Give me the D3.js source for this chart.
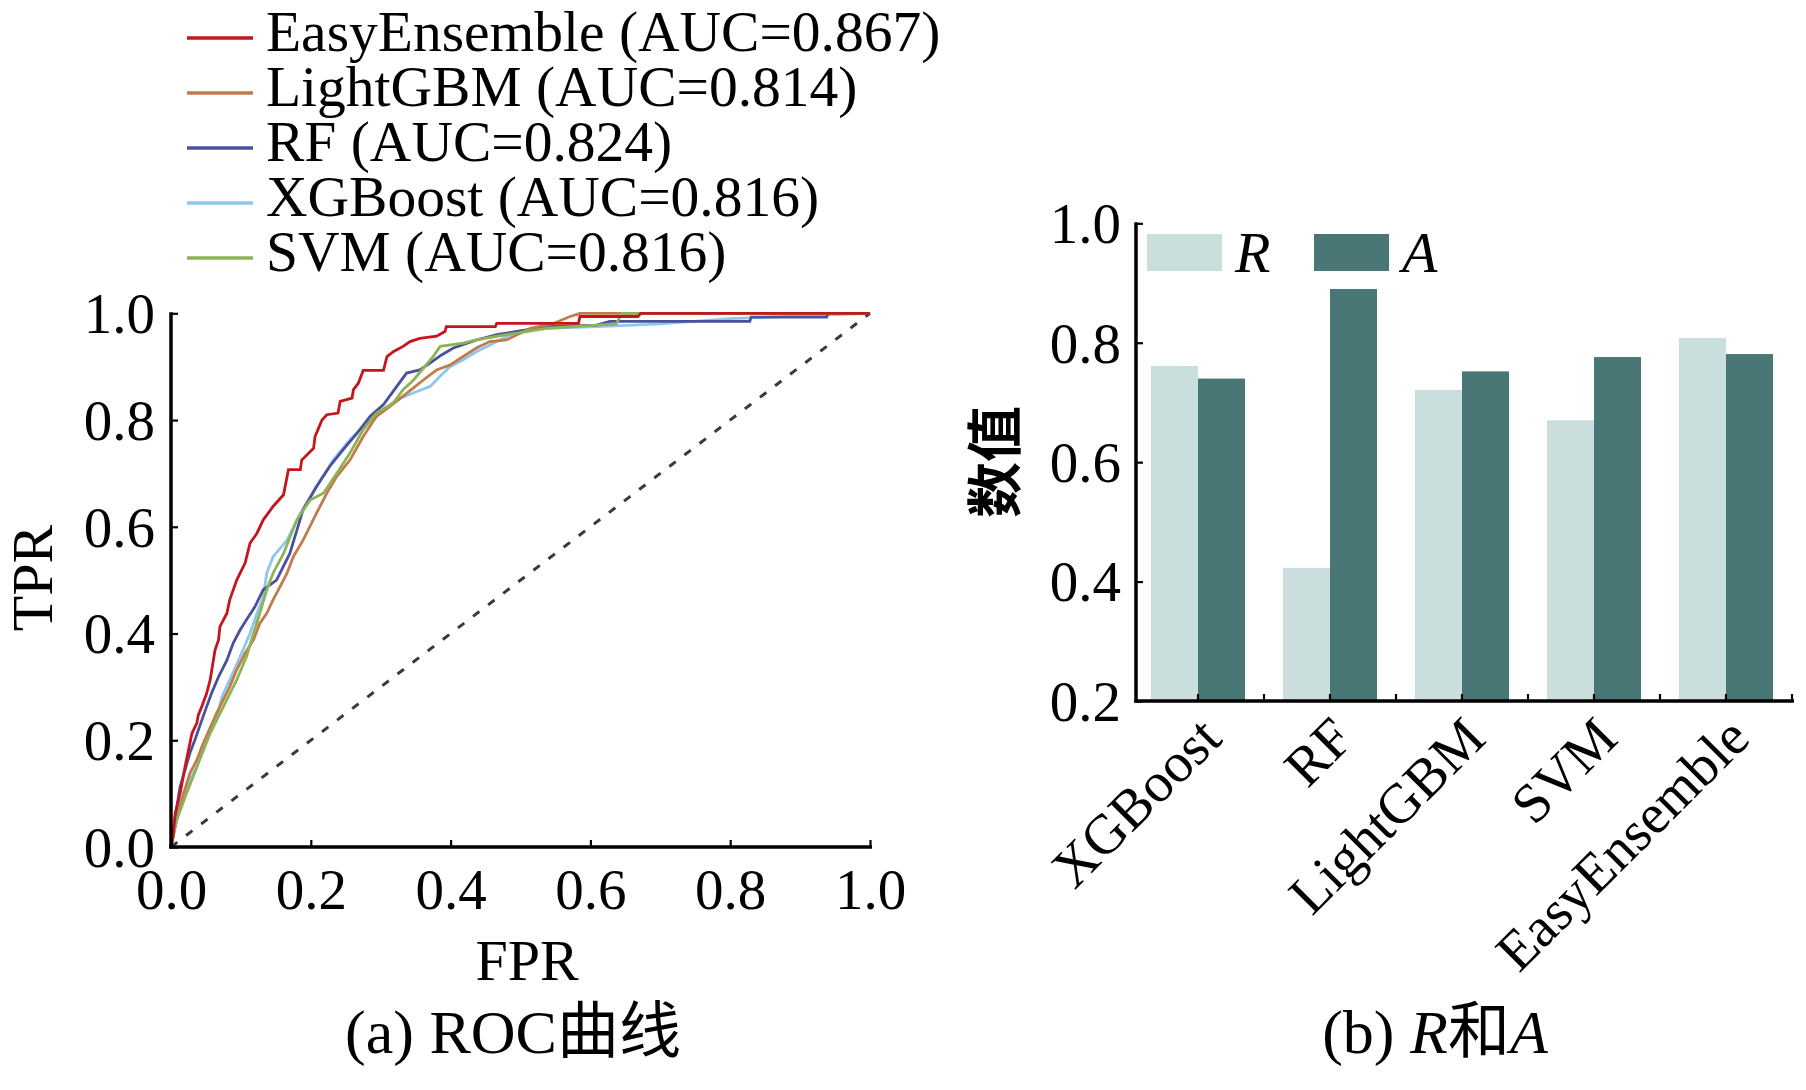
<!DOCTYPE html>
<html>
<head>
<meta charset="utf-8">
<script src="https://cdn.jsdelivr.net/npm/d3@7/dist/d3.min.js"></script>
<style>
  html, body { margin: 0; padding: 0; background: #fff; }
  svg { display: block; }
  text { font-family: "Liberation Serif", "Noto Sans CJK SC", serif; fill: #000; }
</style>
</head>
<body>
<svg id="chart" width="1806" height="1090"></svg>
<script>
// ---------------- DATA ----------------
const rocModels = ["EasyEnsemble", "LightGBM", "RF", "XGBoost", "SVM"];
const rocAUC = ["0.867", "0.814", "0.824", "0.816", "0.816"];
const rocColors = ["#c4161c", "#c27b4b", "#4a509e", "#8ec6ee", "#8cb356"];
const rocTicks = [0, 0.2, 0.4, 0.6, 0.8, 1.0];

const rocEasyEnsemble = [[0,0],[0.003,0.02],[0.006,0.063],[0.013,0.10],[0.02,0.15],[0.026,0.188],[0.03,0.213],[0.037,0.232],[0.039,0.247],[0.044,0.263],[0.051,0.288],[0.056,0.313],[0.058,0.329],[0.063,0.369],[0.068,0.388],[0.07,0.413],[0.08,0.438],[0.084,0.463],[0.094,0.50],[0.106,0.532],[0.113,0.569],[0.123,0.588],[0.132,0.613],[0.146,0.638],[0.161,0.66],[0.168,0.707],[0.185,0.707],[0.187,0.725],[0.204,0.747],[0.206,0.769],[0.216,0.80],[0.223,0.81],[0.239,0.813],[0.242,0.835],[0.259,0.841],[0.261,0.857],[0.268,0.869],[0.275,0.893],[0.304,0.893],[0.309,0.919],[0.318,0.928],[0.332,0.938],[0.342,0.947],[0.356,0.953],[0.38,0.957],[0.392,0.966],[0.394,0.975],[0.464,0.975],[0.466,0.981],[0.583,0.981],[0.585,0.994],[0.668,0.994],[0.672,1.0],[1,1]];
const rocLightGBM = [[0,0],[0.008,0.05],[0.018,0.10],[0.027,0.138],[0.037,0.163],[0.046,0.194],[0.065,0.25],[0.084,0.30],[0.094,0.332],[0.106,0.363],[0.118,0.388],[0.127,0.419],[0.137,0.438],[0.146,0.463],[0.156,0.488],[0.166,0.513],[0.175,0.544],[0.189,0.575],[0.208,0.625],[0.223,0.663],[0.237,0.694],[0.256,0.725],[0.275,0.769],[0.294,0.807],[0.313,0.825],[0.337,0.85],[0.361,0.875],[0.38,0.894],[0.399,0.903],[0.418,0.919],[0.437,0.935],[0.456,0.947],[0.48,0.95],[0.514,0.972],[0.547,0.981],[0.571,0.994],[0.585,1.0],[1,1]];
const rocRF = [[0,0],[0.006,0.057],[0.013,0.113],[0.02,0.144],[0.027,0.176],[0.034,0.20],[0.041,0.226],[0.051,0.263],[0.058,0.288],[0.068,0.319],[0.08,0.35],[0.089,0.382],[0.099,0.407],[0.108,0.426],[0.12,0.45],[0.132,0.482],[0.151,0.50],[0.17,0.55],[0.189,0.632],[0.208,0.675],[0.227,0.713],[0.246,0.744],[0.266,0.775],[0.285,0.807],[0.304,0.829],[0.323,0.863],[0.337,0.888],[0.356,0.894],[0.371,0.907],[0.387,0.922],[0.404,0.935],[0.437,0.95],[0.466,0.96],[0.495,0.966],[0.537,0.975],[0.609,0.978],[0.628,0.985],[0.828,0.985],[0.83,0.993],[0.938,0.993],[0.94,1.0],[1,1]];
const rocXGBoost = [[0,0],[0.008,0.063],[0.022,0.113],[0.037,0.15],[0.051,0.207],[0.065,0.238],[0.073,0.282],[0.084,0.313],[0.099,0.357],[0.113,0.40],[0.123,0.438],[0.132,0.469],[0.137,0.513],[0.146,0.544],[0.166,0.575],[0.185,0.625],[0.208,0.675],[0.232,0.725],[0.256,0.763],[0.275,0.788],[0.304,0.819],[0.323,0.838],[0.351,0.853],[0.371,0.863],[0.385,0.882],[0.399,0.90],[0.418,0.913],[0.437,0.928],[0.466,0.947],[0.495,0.966],[0.537,0.972],[0.61,0.975],[0.70,0.98],[0.80,0.99],[0.90,0.995],[1,1]];
const rocSVM = [[0,0],[0.008,0.05],[0.022,0.10],[0.037,0.15],[0.056,0.213],[0.075,0.263],[0.094,0.313],[0.108,0.357],[0.118,0.40],[0.127,0.438],[0.137,0.482],[0.146,0.513],[0.161,0.55],[0.18,0.613],[0.199,0.65],[0.218,0.663],[0.237,0.70],[0.256,0.738],[0.275,0.782],[0.294,0.813],[0.318,0.832],[0.332,0.857],[0.347,0.875],[0.361,0.897],[0.375,0.919],[0.385,0.938],[0.418,0.944],[0.437,0.95],[0.466,0.957],[0.495,0.963],[0.537,0.972],[0.609,0.978],[0.637,0.98],[0.645,1.0],[1,1]];
const rocDiagonal = [[0,0],[1,1]];

const barCategories = ["XGBoost", "RF", "LightGBM", "SVM", "EasyEnsemble"];
const barSeries = ["R", "A"];
const barR = [0.761, 0.423, 0.721, 0.670, 0.808];
const barA = [0.740, 0.890, 0.752, 0.776, 0.781];
const barColors = ["#c9dedd", "#487776"];
const barTicks = [0.2, 0.4, 0.6, 0.8, 1.0];

// ---------------- DRAW ----------------
const svg = d3.select("#chart");
const FS = 57;

// ===== Panel (a): ROC =====
const xR = d3.scaleLinear().domain([0, 1]).range([171, 870]);
const yR = d3.scaleLinear().domain([0, 1]).range([847, 313.3]);

const gA = svg.append("g");
const line = d3.line().x(d => xR(d[0])).y(d => yR(d[1]));

gA.append("path").datum(rocDiagonal)
  .attr("d", line).attr("fill", "none")
  .attr("stroke", "#3a3a3a").attr("stroke-width", 3)
  .attr("stroke-dasharray", "8,11");

const rocCurves = [rocEasyEnsemble, rocLightGBM, rocRF, rocXGBoost, rocSVM];
const drawOrder = [3, 2, 1, 4, 0];
drawOrder.forEach(i => {
  gA.append("path").datum(rocCurves[i])
    .attr("d", line).attr("fill", "none")
    .attr("stroke", rocColors[i]).attr("stroke-width", 2.8)
    .attr("stroke-linejoin", "miter");
});

// axes
const axL = gA.append("g").attr("transform", `translate(${xR(0)},0)`)
  .call(d3.axisLeft(yR).tickValues(rocTicks).tickFormat(d3.format(".1f")).tickSize(-7).tickSizeOuter(0).tickPadding(16));
const axB = gA.append("g").attr("transform", `translate(0,${yR(0)})`)
  .call(d3.axisBottom(xR).tickValues(rocTicks).tickFormat(d3.format(".1f")).tickSize(-7).tickSizeOuter(0).tickPadding(22));
[axL, axB].forEach(a => {
  a.select(".domain").remove();
  a.selectAll(".tick line").attr("stroke", "#000").attr("stroke-width", 2.2);
  a.selectAll("text").attr("font-size", FS).attr("font-family", "Liberation Serif");
});
axL.selectAll("text").attr("dy", "0.34em");
gA.append("line").attr("x1", xR(0)).attr("x2", xR(0)).attr("y1", yR(1) - 1).attr("y2", yR(0) + 1.5)
  .attr("stroke", "#000").attr("stroke-width", 3.5);
gA.append("line").attr("x1", xR(0) - 1.7).attr("x2", xR(1) + 2).attr("y1", yR(0)).attr("y2", yR(0))
  .attr("stroke", "#000").attr("stroke-width", 3.5);

gA.append("text").attr("x", 527).attr("y", 980).attr("text-anchor", "middle")
  .attr("font-size", 58).text("FPR");
gA.append("text").attr("transform", "translate(52,578) rotate(-90)").attr("text-anchor", "middle")
  .attr("font-size", 58).text("TPR");
gA.append("text").attr("x", 513).attr("y", 1053).attr("text-anchor", "middle")
  .attr("font-size", 62).text("(a) ROC曲线");

// legend
const legA = gA.append("g");
rocModels.forEach((m, i) => {
  const ly = 38 + i * 55;
  legA.append("line").attr("x1", 187).attr("x2", 253).attr("y1", ly).attr("y2", ly)
    .attr("stroke", rocColors[i]).attr("stroke-width", 3.5);
  legA.append("text").attr("x", 266).attr("y", ly + 13).attr("font-size", 57.5)
    .text(`${m} (AUC=${rocAUC[i]})`);
});

// ===== Panel (b): bars =====
const gB = svg.append("g");
const x0 = d3.scaleBand().domain(barCategories).range([1132, 1792]).paddingInner(0.288).paddingOuter(0.144);
const x1 = d3.scaleBand().domain(barSeries).range([0, x0.bandwidth()]);
const yB = d3.scaleLinear().domain([0.2, 1.0]).range([701, 223.3]);
const barVals = { R: barR, A: barA };

barCategories.forEach((c, ci) => {
  barSeries.forEach((s, si) => {
    const v = barVals[s][ci];
    gB.append("rect")
      .attr("x", x0(c) + x1(s))
      .attr("y", yB(v))
      .attr("width", x1.bandwidth())
      .attr("height", yB(0.2) - yB(v))
      .attr("fill", barColors[si]);
  });
});

const axBL = gB.append("g").attr("transform", "translate(1136,0)")
  .call(d3.axisLeft(yB).tickValues(barTicks).tickFormat(d3.format(".1f")).tickSize(-7).tickSizeOuter(0).tickPadding(15));
axBL.select(".domain").remove();
axBL.selectAll(".tick line").attr("stroke", "#000").attr("stroke-width", 2.2);
axBL.selectAll("text").attr("font-size", FS).attr("dy", "0.34em");

gB.append("line").attr("x1", 1136).attr("x2", 1136).attr("y1", yB(1.0) - 1).attr("y2", yB(0.2) + 1.5)
  .attr("stroke", "#000").attr("stroke-width", 3.5);
gB.append("line").attr("x1", 1134.3).attr("x2", 1794).attr("y1", yB(0.2)).attr("y2", yB(0.2))
  .attr("stroke", "#000").attr("stroke-width", 3.5);

// ticks at category centers and boundaries
const centerTicks = barCategories.map(c => x0(c) + x0.bandwidth() / 2);
const boundTicks = d3.range(1, barCategories.length + 1).map(i => x0.range()[0] + i * x0.step());
centerTicks.concat(boundTicks).forEach(tx => {
  gB.append("line").attr("x1", tx).attr("x2", tx).attr("y1", yB(0.2)).attr("y2", yB(0.2) - 7)
    .attr("stroke", "#000").attr("stroke-width", 2.2);
});

// rotated category labels
barCategories.forEach((c, ci) => {
  gB.append("text")
    .attr("transform", `translate(${centerTicks[ci] + 26},${yB(0.2) + 40}) rotate(-45)`)
    .attr("text-anchor", "end").attr("font-size", 56).text(c);
});

// y label
gB.append("text").attr("transform", "translate(1015,462) rotate(-90)")
  .attr("text-anchor", "middle").attr("font-size", 56)
  .attr("font-family", "Noto Sans CJK SC").attr("font-weight", 700).text("数值");

// legend
const legB = gB.append("g");
barSeries.forEach((s, si) => {
  const lx = 1147 + si * 167;
  legB.append("rect").attr("x", lx).attr("y", 234).attr("width", 75).attr("height", 37)
    .attr("fill", barColors[si]);
  legB.append("text").attr("x", lx + 88).attr("y", 272).attr("font-size", 58)
    .attr("font-style", "italic").text(s);
});

// caption
const cap = gB.append("text").attr("x", 1435).attr("y", 1053).attr("text-anchor", "middle").attr("font-size", 62);
cap.append("tspan").text("(b) ");
cap.append("tspan").attr("font-style", "italic").text("R");
cap.append("tspan").attr("font-family", "Noto Sans CJK SC").text("和");
cap.append("tspan").attr("font-style", "italic").text("A");
</script>
</body>
</html>
